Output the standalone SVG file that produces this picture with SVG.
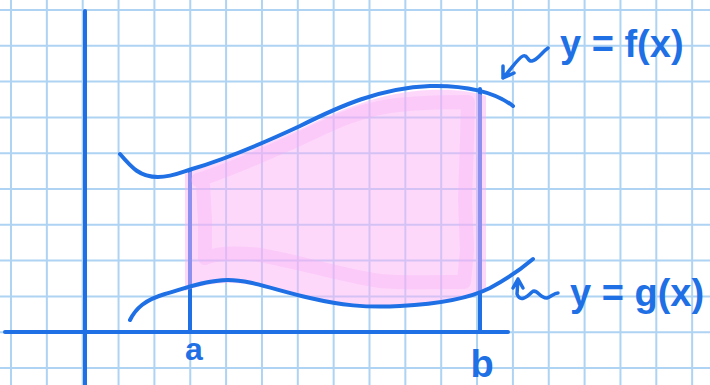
<svg xmlns="http://www.w3.org/2000/svg" width="710" height="385" viewBox="0 0 710 385">
<defs>
<style>
.grid line{stroke:#aed3f3;stroke-width:2}
.ink{fill:none;stroke:#1f6fe5;stroke-width:4;stroke-linecap:round;stroke-linejoin:round}
.thin{fill:none;stroke:#1f6fe5;stroke-width:3.5;stroke-linecap:round;stroke-linejoin:round}
.lbl{font-family:"Liberation Sans",Arial,sans-serif;font-weight:bold;fill:#1f6fe5}
.shade{fill:#fbb2f8;fill-opacity:0.5;stroke:none}
.band{fill:none;stroke:#f9a8f5;stroke-opacity:0.3;stroke-width:14;stroke-linejoin:round;stroke-linecap:round}
</style>
</defs>
<rect width="710" height="385" fill="#ffffff"/>
<g id="grid" class="grid">
<line x1="11" y1="0" x2="11" y2="385"/>
<line x1="46.85" y1="0" x2="46.85" y2="385"/>
<line x1="82.7" y1="0" x2="82.7" y2="385"/>
<line x1="118.55" y1="0" x2="118.55" y2="385"/>
<line x1="154.4" y1="0" x2="154.4" y2="385"/>
<line x1="190.25" y1="0" x2="190.25" y2="385"/>
<line x1="226.1" y1="0" x2="226.1" y2="385"/>
<line x1="261.95" y1="0" x2="261.95" y2="385"/>
<line x1="297.8" y1="0" x2="297.8" y2="385"/>
<line x1="333.65" y1="0" x2="333.65" y2="385"/>
<line x1="369.5" y1="0" x2="369.5" y2="385"/>
<line x1="405.35" y1="0" x2="405.35" y2="385"/>
<line x1="441.2" y1="0" x2="441.2" y2="385"/>
<line x1="477.05" y1="0" x2="477.05" y2="385"/>
<line x1="512.9" y1="0" x2="512.9" y2="385"/>
<line x1="548.75" y1="0" x2="548.75" y2="385"/>
<line x1="584.6" y1="0" x2="584.6" y2="385"/>
<line x1="620.45" y1="0" x2="620.45" y2="385"/>
<line x1="656.3" y1="0" x2="656.3" y2="385"/>
<line x1="692.15" y1="0" x2="692.15" y2="385"/>
<line x1="0" y1="10" x2="710" y2="10"/>
<line x1="0" y1="45.8" x2="710" y2="45.8"/>
<line x1="0" y1="81.6" x2="710" y2="81.6"/>
<line x1="0" y1="117.4" x2="710" y2="117.4"/>
<line x1="0" y1="153.2" x2="710" y2="153.2"/>
<line x1="0" y1="189" x2="710" y2="189"/>
<line x1="0" y1="224.8" x2="710" y2="224.8"/>
<line x1="0" y1="260.6" x2="710" y2="260.6"/>
<line x1="0" y1="296.4" x2="710" y2="296.4"/>
<line x1="0" y1="332.2" x2="710" y2="332.2"/>
<line x1="0" y1="368" x2="710" y2="368"/>
</g>
<g id="axes">
<line class="ink" x1="85" y1="11" x2="85" y2="390"/>
<line class="ink" x1="5" y1="332" x2="508" y2="332"/>
<line class="ink" x1="190" y1="170" x2="190" y2="332"/>
<line class="ink" x1="480" y1="89" x2="480" y2="332"/>
</g>
<g id="region">
<path class="shade" d="M185,174 L192,171 C230,160 270,142 300,129 C340,110 380,92 430,90 C455,89 475,92 486,96 L486,292 C470,298 440,304 400,306 C365,308 340,305 310,298 C275,290 250,282 228,283 C210,283 195,287 185,291 Z"/>
<path class="band" d="M198,180 C230,170 260,156 290,143 C320,130 350,112 390,106 C420,102 450,102 468,102 L467,140 L465,200 L467,250 L464,282 C440,282 400,283 380,281 C340,275 300,262 260,255 C235,252 215,254 205,258 L205,220 L203,185"/>
</g>
<g id="curves">
<path id="f" class="ink" d="M120,154 C132,168 140,177 158,177 C172,177 182,172 192,169 C230,158 270,140 300,126 C340,106 380,88 430,86 C465,85 495,92 513,106"/>
<path id="g" class="ink" d="M130,320 C136,308 145,300 165,294 C180,290 205,280 228,280 C250,280 275,290 310,298 C340,305 365,308 400,306 C440,304 470,298 490,288 C505,280 520,270 533,259"/>
</g>
<g id="label-f">
<path class="thin" d="M548,48 C542,52 538,60 532,61 C527,62 528,54 523,56 C518,58 512,68 503,78 M503,66 L503,78 L514,73"/>
<text class="lbl" x="560" y="57" font-size="38">y = f(x)</text>
</g>
<g id="label-g">
<path class="thin" d="M518,279 L517,294 C520,302 526,298 532,292 C537,288 540,299 547,298 C551,297 554,293 558,293 M513,288 L518,279 L523,288"/>
<text class="lbl" x="570" y="306" font-size="38">y = g(x)</text>
</g>
<g id="label-a"><text class="lbl" x="194" y="360" font-size="32" text-anchor="middle">a</text></g>
<g id="label-b"><text class="lbl" x="482" y="377" font-size="38" text-anchor="middle">b</text></g>
</svg>
